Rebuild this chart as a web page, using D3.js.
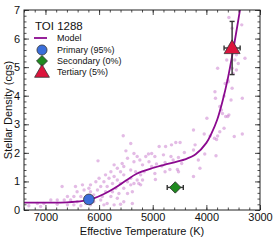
<!DOCTYPE html>
<html>
<head>
<meta charset="utf-8">
<script src="https://cdn.jsdelivr.net/npm/d3@7"></script>
<style>
  body { margin: 0; background: #fff; }
  svg { font-family: "Liberation Sans", Arial, sans-serif; }
</style>
</head>
<body>
<div id="chart"></div>
<script>
// catalogue stars (Teff, density)
var starTeff = [5550,5410,5500,5350,5470,5290,5240,5570,5350,5190,5720,5660,5540,5410,5780,5600,5320,5225,5880,5720,
  5540,5410,5290,6000,5815,5660,5470,5350,5225,6060,5910,5750,5600,5410,5260,6160,5970,5850,5690,5540,
  5380,6190,6030,5880,5750,5630,5470,6440,6310,6690,6280,6410,6160,6590,6470,6340,6100,5940,5780,5660,
  5540,5380,6900,6780,6650,6530,6410,6250,6100,5970,5850,5720,5600,7150,7030,6780,6590,6470,6340,6160,
  5910,7310,7090,6020,5130,5160,5190,
  3580,3340,3520,3620,3470,3405,3280,3480,3440,3790,3520,3440,3500,3600,3650,3590,3520,3840,3830,3670,
  3540,3330,3750,3720,3700,3600,3580,3640,3990,3670,3480,3330,4240,3750,3790,3930,4040,3810,3850,4210,
  4030,3820,4490,4570,4650,4760,4880,5020,5080,4960,4800,4660,4520,4410,4240,4150,5070,4930,4770,4620,
  4460,5020,4830,4680,4520,4960,4770,4540,4120,4950,4240];
var starDensity = [2.60,2.33,2.07,1.98,1.81,1.87,1.75,1.63,1.69,1.58,1.58,1.46,1.52,1.40,1.34,1.34,1.34,1.23,1.23,1.17,
  1.23,1.11,1.05,1.11,1.11,1.05,0.99,0.93,0.88,0.99,0.99,0.93,0.93,0.88,0.93,0.88,0.82,0.82,0.76,0.76,
  0.64,0.76,0.70,0.64,0.64,0.58,0.58,0.82,0.88,0.82,0.70,0.64,0.64,0.47,0.47,0.47,0.53,0.47,0.47,0.41,
  0.29,0.23,0.35,0.35,0.35,0.35,0.29,0.23,0.29,0.35,0.23,0.18,0.20,0.23,0.23,0.20,0.18,0.18,0.15,0.18,
  0.18,0.15,0.12,1.72,1.87,1.34,1.05,
  6.74,6.48,6.36,5.25,5.25,5.13,5.31,5.54,5.43,4.96,4.96,4.90,4.78,4.55,4.43,4.49,4.26,4.14,3.91,3.99,
  3.85,3.91,3.62,3.50,3.38,3.27,3.33,3.27,3.21,2.86,2.57,2.66,2.80,2.74,2.59,2.59,2.66,2.47,2.51,2.28,
  1.96,1.90,2.36,2.36,2.28,2.22,2.22,1.98,1.96,1.87,1.93,1.87,1.84,2.01,2.10,1.75,1.69,1.61,1.66,1.75,
  1.63,1.52,1.54,1.42,1.34,1.28,1.34,1.42,1.46,1.07,1.17];

// model relation
var modelTeff = [7400,7000,6600,6300,6100,5900,5700,5500,5300,5000,4700,4400,4200,4000,3900,3800,3700,3600,3500,3400,3330];
var modelDensity = [0.26,0.26,0.27,0.32,0.41,0.57,0.78,1.03,1.27,1.47,1.62,1.77,1.95,2.35,2.7,3.15,3.8,4.6,5.6,6.7,7.5];

// the three companions
var compNames = ["Primary (95%)", "Secondary (0%)", "Tertiary (5%)"];
var compTeff = [6190, 4580, 3520];
var compTeffErr = [60, 150, 150];
var compDensity = [0.37, 0.79, 5.67];
var compDensityErr = [0.04, 0.04, 0.93];
var compColors = ["#3b6fdb", "#1f8a1f", "#dc143c"];
var compSymbols = [d3.symbolCircle, d3.symbolSquare, d3.symbolTriangle];
var compRotate = [0, 45, 0];

var xTicks = [7000, 6000, 5000, 4000, 3000];
var yTicks = [0, 1, 2, 3, 4, 5, 6, 7];

var width = 274, height = 240;
var margin = {left: 24, right: 14, top: 10, bottom: 30};

var svg = d3.select("#chart").append("svg")
    .attr("width", width)
    .attr("height", height);

var x = d3.scaleLinear().domain([7400, 3000]).range([margin.left, width - margin.right]);
var y = d3.scaleLinear().domain([0, 7]).range([height - margin.bottom, margin.top]);

svg.append("clipPath").attr("id", "clip")
  .append("rect")
    .attr("x", margin.left).attr("y", margin.top)
    .attr("width", x.range()[1] - x.range()[0])
    .attr("height", y.range()[0] - y.range()[1]);

var plot = svg.append("g").attr("clip-path", "url(#clip)");

// scatter of catalogue stars
plot.selectAll("circle.star")
    .data(starTeff)
    .enter()
    .append("circle")
    .attr("class", "star")
    .attr("cx", function(d) { return x(d); })
    .attr("cy", function(d, i) { return y(starDensity[i]); })
    .attr("r", 1.7)
    .attr("fill", "#c878cc")
    .attr("opacity", 0.5);

// model curve
var line = d3.line()
    .x(function(d) { return x(d); })
    .y(function(d, i) { return y(modelDensity[i]); })
    .curve(d3.curveCatmullRom);

plot.append("path")
    .attr("d", line(modelTeff))
    .attr("fill", "none")
    .attr("stroke", "#8b0a8f")
    .attr("stroke-width", 1.8);

// error bars
var errG = svg.append("g").attr("stroke", "#333").attr("stroke-width", 1.4);
compTeff.forEach(function(t, i) {
  var cx = x(t), cy = y(compDensity[i]);
  var x0 = x(t + compTeffErr[i]), x1 = x(t - compTeffErr[i]);
  var y0 = y(compDensity[i] - compDensityErr[i]), y1 = y(compDensity[i] + compDensityErr[i]);
  errG.append("line").attr("x1", x0).attr("x2", x1).attr("y1", cy).attr("y2", cy);
  errG.append("line").attr("x1", x0).attr("x2", x0).attr("y1", cy - 2.5).attr("y2", cy + 2.5);
  errG.append("line").attr("x1", x1).attr("x2", x1).attr("y1", cy - 2.5).attr("y2", cy + 2.5);
  errG.append("line").attr("x1", cx).attr("x2", cx).attr("y1", y0).attr("y2", y1);
  errG.append("line").attr("x1", cx - 2.5).attr("x2", cx + 2.5).attr("y1", y0).attr("y2", y0);
  errG.append("line").attr("x1", cx - 2.5).attr("x2", cx + 2.5).attr("y1", y1).attr("y2", y1);
});

// companion markers
var symSizes = [90, 65, 110];
compTeff.forEach(function(t, i) {
  svg.append("path")
      .attr("d", d3.symbol().type(compSymbols[i]).size(symSizes[i])())
      .attr("transform", "translate(" + x(t) + "," + (y(compDensity[i]) + (i == 2 ? 1 : 0)) + ") rotate(" + compRotate[i] + ")")
      .attr("fill", compColors[i])
      .attr("stroke", "#333")
      .attr("stroke-width", 0.8);
});

// axes, ticks inward on all sides
function minorTicks(scale, step) {
  var lo = d3.min(scale.domain()), hi = d3.max(scale.domain());
  return d3.range(lo, hi + 1e-6, step);
}
var xMinor = minorTicks(x, 200), yMinor = minorTicks(y, 0.2);

var bottomY = y.range()[0], topY = y.range()[1];
var leftX = x.range()[0], rightX = x.range()[1];

svg.append("g").attr("transform", "translate(0," + bottomY + ")")
    .call(d3.axisBottom(x).tickValues(xTicks).tickSize(-5).tickPadding(3).tickFormat(d3.format("d")));
svg.append("g").attr("transform", "translate(0," + bottomY + ")")
    .call(d3.axisBottom(x).tickValues(xMinor).tickSize(-2.5).tickFormat(""));
svg.append("g").attr("transform", "translate(0," + topY + ")")
    .call(d3.axisTop(x).tickValues(xTicks).tickSize(-5).tickFormat(""));
svg.append("g").attr("transform", "translate(0," + topY + ")")
    .call(d3.axisTop(x).tickValues(xMinor).tickSize(-2.5).tickFormat(""));
svg.append("g").attr("transform", "translate(" + leftX + ",0)")
    .call(d3.axisLeft(y).tickValues(yTicks).tickSize(-5).tickPadding(4).tickFormat(d3.format("d")));
svg.append("g").attr("transform", "translate(" + leftX + ",0)")
    .call(d3.axisLeft(y).tickValues(yMinor).tickSize(-2.5).tickFormat(""));
svg.append("g").attr("transform", "translate(" + rightX + ",0)")
    .call(d3.axisRight(y).tickValues(yTicks).tickSize(-5).tickFormat(""));
svg.append("g").attr("transform", "translate(" + rightX + ",0)")
    .call(d3.axisRight(y).tickValues(yMinor).tickSize(-2.5).tickFormat(""));

svg.selectAll(".domain").remove();
svg.selectAll(".tick line").attr("stroke", "#222").attr("stroke-width", 0.8);
svg.selectAll(".tick text").attr("font-size", 11).attr("fill", "#111")
    .attr("font-family", "Liberation Sans, Arial, sans-serif");

// frame
svg.append("rect")
    .attr("x", leftX).attr("y", topY)
    .attr("width", rightX - leftX).attr("height", bottomY - topY)
    .attr("fill", "none").attr("stroke", "#222").attr("stroke-width", 1);

// axis titles
svg.append("text")
    .attr("x", (leftX + rightX) / 2)
    .attr("y", 235)
    .attr("text-anchor", "middle")
    .attr("font-size", 11)
    .attr("fill", "#111")
    .text("Effective Temperature (K)");

svg.append("text")
    .attr("transform", "translate(8," + ((topY + bottomY) / 2) + ") rotate(-90)")
    .attr("text-anchor", "middle")
    .attr("dy", "0.35em")
    .attr("font-size", 11)
    .attr("fill", "#111")
    .text("Stellar Density (cgs)");

// legend
var legend = svg.append("g");
legend.append("text")
    .attr("x", 35).attr("y", 30)
    .attr("font-size", 11.5)
    .attr("fill", "#111")
    .text("TOI 1288");
legend.append("line")
    .attr("x1", 34).attr("x2", 47).attr("y1", 38).attr("y2", 38)
    .attr("stroke", "#8b0a8f").attr("stroke-width", 1.8);
legend.append("text")
    .attr("x", 57).attr("y", 38).attr("dy", "0.35em")
    .attr("font-size", 9).attr("fill", "#111")
    .text("Model");

compNames.forEach(function(name, i) {
  var ly = 50 + i * 11;
  legend.append("path")
      .attr("d", d3.symbol().type(compSymbols[i]).size([80, 60, 95][i])())
      .attr("transform", "translate(42," + (ly + (i == 2 ? 1 : 0)) + ") rotate(" + compRotate[i] + ")")
      .attr("fill", compColors[i])
      .attr("stroke", "#333")
      .attr("stroke-width", 0.8);
  legend.append("text")
      .attr("x", 57).attr("y", ly).attr("dy", "0.35em")
      .attr("font-size", 9).attr("fill", "#111")
      .text(name);
});
</script>
</body>
</html>
